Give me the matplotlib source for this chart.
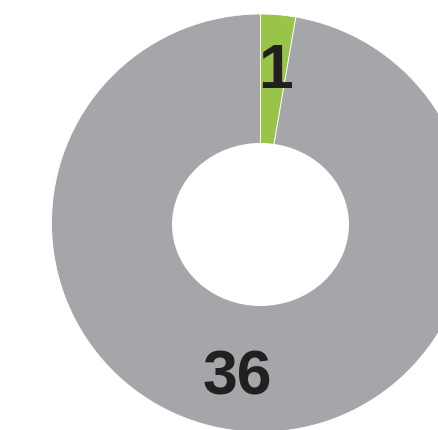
import numpy as np
import matplotlib
matplotlib.use("Agg")
import matplotlib.pyplot as plt
from matplotlib.patches import Ellipse

labels = ["1", "36"]
values = [1, 36]
colors = ["#99c44a", "#a5a6a9"]

fig = plt.figure(figsize=(4.38, 4.30), dpi=100)
# the donut sits off-centre and runs past the right and bottom edges
ax = fig.add_axes([0.1176, -0.0047, 0.9543, 0.9721])

wedges, _ = ax.pie(values, colors=colors, startangle=90, counterclock=False,
                   radius=1.0, wedgeprops=dict(edgecolor="white", linewidth=0.6))

# hole in the middle (a bit wider than tall in the reference)
ax.add_patch(Ellipse((0, -0.007), 2 * 0.4234, 2 * 0.39, facecolor="white",
                     edgecolor="none", zorder=5))

# value labels placed along each wedge's middle angle
label_r = [0.728, 0.745]
label_shift = [0.008, -0.05]
for w, lab, r, sh in zip(wedges, labels, label_r, label_shift):
    mid = np.deg2rad((w.theta1 + w.theta2) / 2)
    ax.text(r * np.cos(mid) + sh, r * np.sin(mid), lab, ha="center", va="center",
            fontsize=45, fontweight="bold", color="#231f20", zorder=6,
            fontstretch="condensed",
            family=["Liberation Sans Narrow", "Liberation Sans", "DejaVu Sans"])

ax.set_xlim(-1, 1)
ax.set_ylim(-1, 1)
ax.axis("off")

fig.savefig("out.png", dpi=100)
